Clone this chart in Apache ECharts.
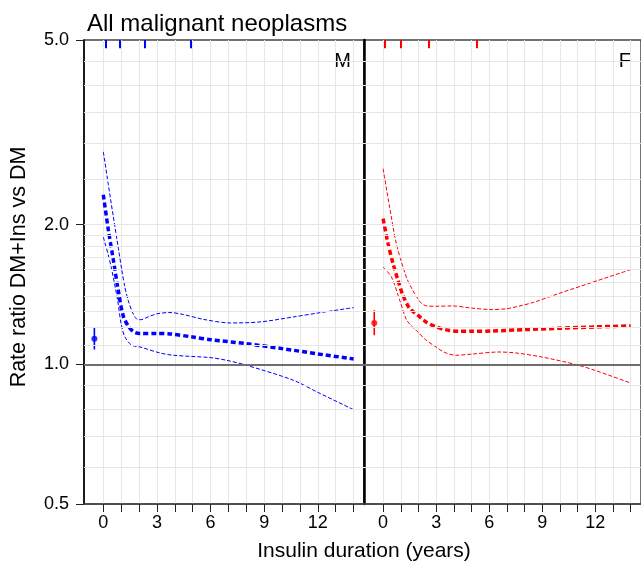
<!DOCTYPE html>
<html><head><meta charset="utf-8">
<script src="https://cdn.jsdelivr.net/npm/echarts@6/dist/echarts.min.js"></script>
<style>html,body{margin:0;padding:0;background:#fff}#c{width:641px;height:564px}</style>
</head><body><div id="c"></div>
<script>
const chartTitle = 'All malignant neoplasms';
const xName = 'Insulin duration (years)';
const yName = 'Rate ratio DM+Ins vs DM';
const panelNames = ['M', 'F'];
const panelColors = ['#0000ff', '#ff0000'];
const xTicks = [0,1,2,3,4,5,6,7,8,9,10,11,12,13,14];
const xTickLabels = [0,3,6,9,12];
const yTickLabels = [0.5,1,2,5];
const yGridValues = [0.6,0.7,0.8,0.9,1.1,1.2,1.3,1.4,1.5,1.6,1.7,1.8,1.9,2.0,2.5,3.0,3.5,4.0,4.5];
const refValue = 1;

// Men
const mEst = [[0,2.32],[0.28,1.95],[0.56,1.68],[0.84,1.44],[1.12,1.27],[1.45,1.2],[1.75,1.172],[2.05,1.165],[3,1.165],[3.73,1.163],[5,1.145],[6,1.13],[8,1.108],[10,1.081],[12,1.053],[14,1.027]];
const mUpper = [[0,2.87],[0.28,2.44],[0.56,2.08],[0.84,1.78],[1.03,1.6],[1.2,1.47],[1.4,1.37],[1.65,1.29],[1.9,1.25],[2.1,1.248],[2.5,1.265],[3,1.285],[3.73,1.293],[4.5,1.28],[5.6,1.25],[7.1,1.228],[8.76,1.234],[10.63,1.265],[12,1.29],[14,1.325]];
const mLower = [[0,1.88],[0.28,1.72],[0.47,1.6],[0.8,1.374],[1.0,1.22],[1.21,1.145],[1.58,1.1],[2.05,1.09],[3.17,1.058],[3.92,1.046],[5.97,1.034],[6.9,1.02],[8.02,0.995],[10.63,0.924],[12,0.87],[14,0.7985]];
const mPoint = [-0.5, 1.136];
const mPointCI = [1.076, 1.2];
const mRug = [0.13, 0.93, 2.33, 4.87];

// Women
const fEst = [[0,2.06],[0.28,1.82],[0.56,1.65],[0.84,1.518],[1.12,1.409],[1.5,1.32],[1.96,1.276],[2.43,1.234],[2.99,1.204],[3.5,1.188],[4.3,1.178],[5,1.178],[6.17,1.18],[8,1.188],[10,1.196],[12,1.204],[14,1.21]];
const fUpper = [[0,2.64],[0.37,2.18],[0.75,1.82],[1.31,1.543],[1.65,1.45],[1.96,1.386],[2.2,1.35],[2.5,1.336],[3,1.334],[3.93,1.336],[5,1.322],[6.17,1.312],[7,1.318],[7.66,1.334],[8.5,1.36],[9.91,1.42],[11.78,1.5],[14,1.6]];
const fLower = [[0,1.62],[0.47,1.543],[0.94,1.374],[1.31,1.25],[1.6,1.21],[1.87,1.184],[2.4,1.13],[2.99,1.09],[3.5,1.06],[4.12,1.046],[5,1.052],[6.55,1.063],[7.5,1.058],[8.97,1.037],[10.85,1.0],[12,0.97],[14,0.911]];
const fPoint = [-0.5, 1.228];
const fPointCI = [1.155, 1.308];
const fRug = [0.1, 1.02, 2.56, 5.32];

const FONT = 'Liberation Sans, Arial, Helvetica, sans-serif';
const panelData = [
  {est: mEst, up: mUpper, lo: mLower, pt: mPoint, ci: mPointCI, rug: mRug},
  {est: fEst, up: fUpper, lo: fLower, pt: fPoint, ci: fPointCI, rug: fRug}
];

const grids = [], xAxes = [], yAxes = [], series = [];
panelData.forEach((p, i) => {
  const col = panelColors[i];
  grids.push({left: 84 + i * 280, top: 40, width: 280, height: 464, show: true,
    borderColor: '#444', borderWidth: 1.5, backgroundColor: 'transparent'});
  xAxes.push({type: 'value', gridIndex: i, min: -1.08, max: 14.58,
    axisLine: {show: true, lineStyle: {color: '#444', width: 1.5}},
    axisTick: {show: true, customValues: xTicks, length: 8, lineStyle: {color: '#222', width: 1}},
    axisLabel: {customValues: xTickLabels, fontSize: 18, color: '#000', fontFamily: FONT, margin: 10},
    splitLine: {show: true, lineStyle: {color: '#e6e6e6', width: 1}}
  });
  yAxes.push({type: 'log', logBase: 10, gridIndex: i, min: 0.5, max: 5,
    axisLine: {show: true, onZero: false, lineStyle: {color: '#000', width: i === 0 ? 1.5 : 2.5}},
    axisTick: {show: i === 0, customValues: yTickLabels, length: 8, lineStyle: {color: '#222'}},
    axisLabel: {show: i === 0, customValues: yTickLabels, fontSize: 18, color: '#000', fontFamily: FONT, margin: 15,
      formatter: v => Number(v).toFixed(1)},
    splitLine: {show: false}
  });
  // gridlines + reference line
  series.push({type: 'line', xAxisIndex: i, yAxisIndex: i, data: [], z: 1, silent: true,
    markLine: {silent: true, symbol: 'none', animation: false, label: {show: false},
      lineStyle: {color: '#e6e6e6', width: 1, type: 'solid'},
      data: yGridValues.map(v => ({yAxis: v}))
        .concat([{yAxis: refValue, lineStyle: {color: '#6e6e6e', width: 1.8, type: 'solid'}}])
    }
  });
  // rug ticks
  series.push({type: 'line', xAxisIndex: i, yAxisIndex: i, data: [], z: 6, silent: true,
    markLine: {silent: true, symbol: 'none', animation: false, label: {show: false},
      lineStyle: {color: col, width: 2, type: 'solid'},
      data: p.rug.map(x => [{coord: [x, 5]}, {coord: [x, 4.8]}])
    }
  });
  // CI lines
  [p.up, p.lo].forEach(d => series.push({type: 'line', xAxisIndex: i, yAxisIndex: i, data: d, z: 3,
    smooth: 0.3, symbol: 'none', silent: true, animation: false,
    lineStyle: {color: col, width: 1, type: [4, 2]}}));
  // estimate
  series.push({type: 'line', xAxisIndex: i, yAxisIndex: i, data: p.est, z: 4,
    smooth: 0.3, symbol: 'none', silent: true, animation: false,
    lineStyle: {color: col, width: 3.5, type: [5, 3]}});
  // point estimate with CI
  series.push({type: 'line', xAxisIndex: i, yAxisIndex: i, data: [[p.pt[0], p.ci[0]], [p.pt[0], p.ci[1]]], z: 4,
    symbol: 'none', silent: true, animation: false, lineStyle: {color: col, width: 1.6}});
  series.push({type: 'scatter', xAxisIndex: i, yAxisIndex: i, data: [p.pt], z: 5,
    symbol: 'circle', symbolSize: 6, itemStyle: {color: col}, silent: true, animation: false});
});

const chart = echarts.init(document.getElementById('c'), null, {renderer: 'canvas'});
chart.setOption({
  animation: false,
  backgroundColor: '#fff',
  title: {text: chartTitle, left: 82, top: 7,
    textStyle: {fontSize: 24, fontWeight: 'normal', color: '#000', fontFamily: FONT}},
  grid: grids, xAxis: xAxes, yAxis: yAxes, series: series,
  graphic: [
    {type: 'text', x: 364, y: 551, silent: true, style: {text: xName, align: 'center', verticalAlign: 'middle',
      fontSize: 21, fontFamily: FONT, fill: '#000'}},
    {type: 'text', x: 19, y: 267, rotation: Math.PI / 2, silent: true, style: {text: yName, align: 'center', verticalAlign: 'middle',
      fontSize: 21.5, fontFamily: FONT, fill: '#000'}},
    {type: 'text', x: 351, y: 61, silent: true, style: {text: panelNames[0], align: 'right', verticalAlign: 'middle',
      fontSize: 20, fontFamily: FONT, fill: '#000'}},
    {type: 'text', x: 631, y: 61, silent: true, style: {text: panelNames[1], align: 'right', verticalAlign: 'middle',
      fontSize: 20, fontFamily: FONT, fill: '#000'}}
  ]
});
</script></body></html>
